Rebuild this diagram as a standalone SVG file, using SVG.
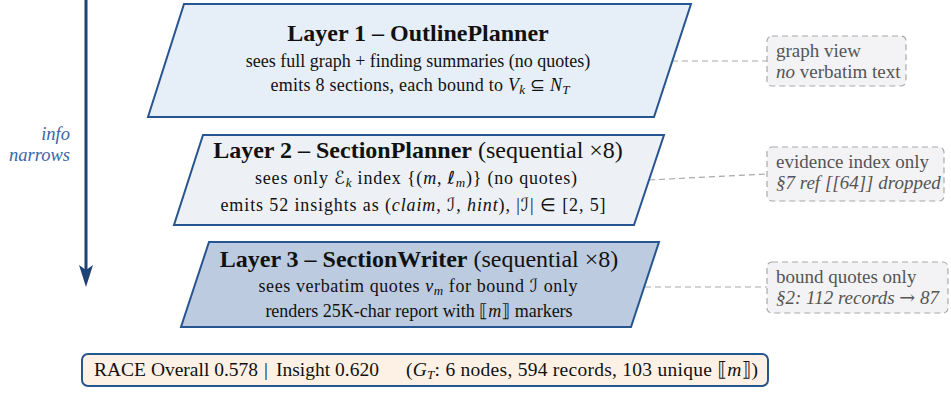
<svg xmlns="http://www.w3.org/2000/svg" width="951" height="394" viewBox="0 0 951 394" font-family="'Liberation Serif', serif">
<style>
text{font-family:"Liberation Serif",serif;fill:#111}
.m{font-family:"DejaVu Serif","DejaVu Sans",serif}
.t{font-size:24px;text-anchor:middle}
.b{font-weight:bold}
.s{font-size:18px;text-anchor:middle}
.i{font-style:italic}
.layer{stroke:#26558f;stroke-width:2}
.note rect{fill:#f3f3f5;stroke:#aaa;stroke-width:1.2;stroke-dasharray:6 4}
.note text{font-size:19px;fill:#555}
.conn line{stroke:#aaa;stroke-width:1.2;stroke-dasharray:6 4}
.sub{font-size:13px}
</style>
<g id="flow-arrow">
<line x1="86" y1="0" x2="86" y2="270" stroke="#1e4273" stroke-width="3"/>
<polygon points="79,265 86,287 93,265 86,270" fill="#1e4273"/>
<text x="70" y="140" class="i" style="font-size:18.5px;fill:#3a66a8;text-anchor:end">info</text>
<text x="70" y="161" class="i" style="font-size:18.5px;fill:#3a66a8;text-anchor:end">narrows</text>
</g>
<g class="conn" id="connectors">
<line x1="672" y1="61" x2="767" y2="61"/>
<line x1="649" y1="180" x2="767" y2="174"/>
<line x1="645" y1="287" x2="767" y2="287"/>
</g>
<g id="layer1">
<polygon class="layer" points="184,4 691,4 654,117 148,117" fill="#e6eef8"/>
<text x="418" y="41" class="t b">Layer 1 – OutlinePlanner</text>
<text x="418" y="67" class="s">sees full graph + finding summaries (no quotes)</text>
<text x="420" y="91" class="s" textLength="299" lengthAdjust="spacing">emits 8 sections, each bound to <tspan class="i">V</tspan><tspan class="i sub" dy="3">k</tspan><tspan dy="-3"> ⊆ </tspan><tspan class="i">N</tspan><tspan class="i sub" dy="3">T</tspan></text>
</g>
<g id="layer2">
<polygon class="layer" points="203,135 664,135 634,225 174,225" fill="#edf0f5"/>
<text x="418" y="158" class="t"><tspan class="b">Layer 2 – SectionPlanner</tspan> (sequential ×8)</text>
<text x="416" y="184" class="s" textLength="322" lengthAdjust="spacing">sees only <tspan class="i m">ℰ</tspan><tspan class="i sub" dy="3">k</tspan><tspan dy="-3"> index {(</tspan><tspan class="i">m</tspan>, <tspan class="i m">ℓ</tspan><tspan class="i sub" dy="3">m</tspan><tspan dy="-3">)} (no quotes)</tspan></text>
<text x="413" y="211" class="s" textLength="385" lengthAdjust="spacing">emits 52 insights as (<tspan class="i">claim</tspan>, <tspan class="i m">ℐ</tspan>, <tspan class="i">hint</tspan>), |<tspan class="i m">ℐ</tspan>| ∈ [2, 5]</text>
</g>
<g id="layer3">
<polygon class="layer" points="209,242 659,242 631,327 181,327" fill="#bccbdf"/>
<text x="419" y="267" class="t"><tspan class="b">Layer 3 – SectionWriter</tspan> (sequential ×8)</text>
<text x="418" y="292" class="s" textLength="319" lengthAdjust="spacing">sees verbatim quotes <tspan class="i">v</tspan><tspan class="i sub" dy="3">m</tspan><tspan dy="-3"> for bound </tspan><tspan class="i m">ℐ</tspan> only</text>
<text x="419" y="317" class="s">renders 25K-char report with <tspan class="m">⟦</tspan><tspan class="i">m</tspan><tspan class="m">⟧</tspan> markers</text>
</g>
<g class="note" id="note1">
<rect x="767" y="36" width="139" height="50" rx="5"/>
<text x="776" y="57">graph view</text>
<text x="776" y="78"><tspan class="i">no</tspan> verbatim text</text>
</g>
<g class="note" id="note2">
<rect x="767" y="147" width="177" height="54" rx="5"/>
<text x="776" y="168">evidence index only</text>
<text x="776" y="189" class="i">§7 ref [[64]] dropped</text>
</g>
<g class="note" id="note3">
<rect x="767" y="262" width="181" height="51" rx="5"/>
<text x="776" y="283">bound quotes only</text>
<text x="776" y="304" class="i">§2: 112 records <tspan class="m">→</tspan> 87</text>
</g>
<g id="metrics">
<rect x="82" y="354" width="686" height="32" rx="6" fill="#fdf1e6" stroke="#26558f" stroke-width="2"/>
<text x="94" y="376" style="font-size:19.5px">RACE Overall 0.578<tspan x="264">|</tspan><tspan x="276">Insight 0.620</tspan></text>
<text x="406" y="376" style="font-size:19.5px" textLength="352" lengthAdjust="spacing">(<tspan class="i">G</tspan><tspan class="i sub" dy="3">T</tspan><tspan dy="-3">: 6 nodes, 594 records, 103 unique </tspan><tspan class="m">⟦</tspan><tspan class="i">m</tspan><tspan class="m">⟧</tspan>)</text>
</g>
</svg>
